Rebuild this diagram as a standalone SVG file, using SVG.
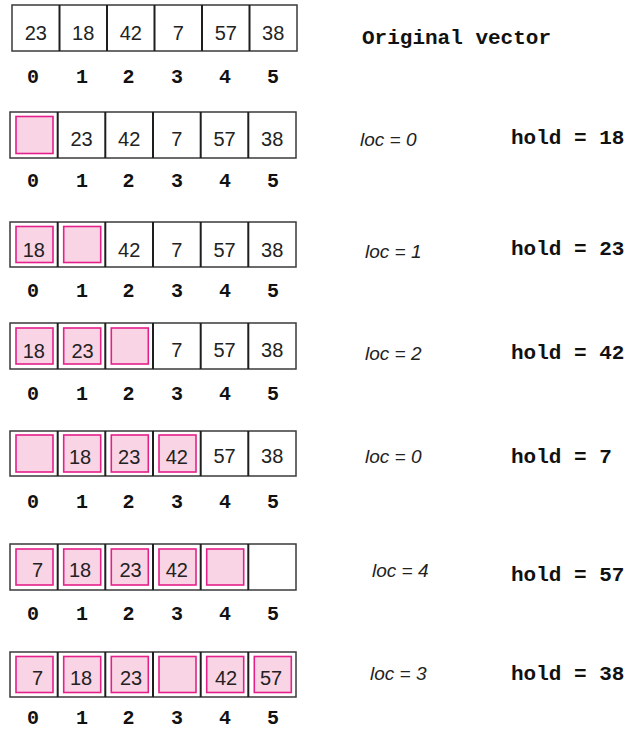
<svg xmlns="http://www.w3.org/2000/svg" width="628" height="731" viewBox="0 0 628 731">
<style>
.bg{fill:#fff}
.box{fill:#fff;stroke:#3a3a3a;stroke-width:1.5}
.div{stroke:#1e1e1e;stroke-width:2}
.pk{fill:#f9d4e4;stroke:#e5208a;stroke-width:1.6}
.num{font-family:"Liberation Sans",Arial,sans-serif;font-size:20px;fill:#222;text-anchor:middle}
.idx{font-family:"Liberation Mono","Courier New",monospace;font-weight:bold;font-size:20px;fill:#111;text-anchor:middle}
.loc{font-family:"Liberation Sans",Arial,sans-serif;font-style:italic;font-size:19px;fill:#222}
.hold{font-family:"Liberation Mono","Courier New",monospace;font-weight:bold;font-size:21px;fill:#111}
</style>
<rect class="bg" x="0" y="0" width="628" height="731"/>

<g id="row1">
<rect class="box" x="12" y="5" width="285" height="46"/>
<path class="div" d="M59.5 5V51M107 5V51M154.5 5V51M202 5V51M249.5 5V51"/>
<text class="num" x="35.8" y="40">23</text><text class="num" x="83.2" y="40">18</text><text class="num" x="130.8" y="40">42</text><text class="num" x="178.2" y="40">7</text><text class="num" x="225.8" y="40">57</text><text class="num" x="273.2" y="40">38</text>
<text class="idx" x="33" y="83">0</text><text class="idx" x="82" y="83">1</text><text class="idx" x="128.5" y="83">2</text><text class="idx" x="177" y="83">3</text><text class="idx" x="225" y="83">4</text><text class="idx" x="273" y="83">5</text>
<text class="hold" x="362" y="44">Original vector</text>
</g>

<g id="row2">
<rect class="box" x="10" y="112" width="286" height="46"/>
<path class="div" d="M57.7 112V158M105.3 112V158M153 112V158M200.7 112V158M248.3 112V158"/>
<rect class="pk" x="16" y="116.5" width="37" height="37"/>
<text class="num" x="81.5" y="146">23</text><text class="num" x="129.2" y="146">42</text><text class="num" x="176.8" y="146">7</text><text class="num" x="224.5" y="146">57</text><text class="num" x="272.2" y="146">38</text>
<text class="idx" x="33" y="187">0</text><text class="idx" x="82" y="187">1</text><text class="idx" x="128.5" y="187">2</text><text class="idx" x="177" y="187">3</text><text class="idx" x="225" y="187">4</text><text class="idx" x="273" y="187">5</text>
<text class="loc" x="360" y="146">loc = 0</text>
<text class="hold" x="511" y="144">hold = 18</text>
</g>

<g id="row3">
<rect class="box" x="10" y="222" width="286" height="45"/>
<path class="div" d="M57.7 222V267M105.3 222V267M153 222V267M200.7 222V267M248.3 222V267"/>
<rect class="pk" x="16" y="226.5" width="37" height="36"/>
<rect class="pk" x="63.7" y="226.5" width="37" height="36"/>
<text class="num" x="33.8" y="257">18</text>
<text class="num" x="129.2" y="257">42</text><text class="num" x="176.8" y="257">7</text><text class="num" x="224.5" y="257">57</text><text class="num" x="272.2" y="257">38</text>
<text class="idx" x="33" y="297">0</text><text class="idx" x="82" y="297">1</text><text class="idx" x="128.5" y="297">2</text><text class="idx" x="177" y="297">3</text><text class="idx" x="225" y="297">4</text><text class="idx" x="273" y="297">5</text>
<text class="loc" x="365" y="258">loc = 1</text>
<text class="hold" x="511" y="255">hold = 23</text>
</g>

<g id="row4">
<rect class="box" x="10" y="323" width="286" height="46"/>
<path class="div" d="M57.7 323V369M105.3 323V369M153 323V369M200.7 323V369M248.3 323V369"/>
<rect class="pk" x="16" y="328" width="37" height="36"/>
<rect class="pk" x="63.7" y="328" width="37" height="36"/>
<rect class="pk" x="111.3" y="328" width="37" height="36"/>
<text class="num" x="33.8" y="358">18</text><text class="num" x="82.5" y="358">23</text>
<text class="num" x="176.8" y="357">7</text><text class="num" x="224.5" y="357">57</text><text class="num" x="272.2" y="357">38</text>
<text class="idx" x="33" y="400">0</text><text class="idx" x="82" y="400">1</text><text class="idx" x="128.5" y="400">2</text><text class="idx" x="177" y="400">3</text><text class="idx" x="225" y="400">4</text><text class="idx" x="273" y="400">5</text>
<text class="loc" x="365" y="360">loc = 2</text>
<text class="hold" x="511" y="359">hold = 42</text>
</g>

<g id="row5">
<rect class="box" x="10" y="431" width="286" height="45"/>
<path class="div" d="M57.7 431V476M105.3 431V476M153 431V476M200.7 431V476M248.3 431V476"/>
<rect class="pk" x="16" y="435" width="37" height="37"/>
<rect class="pk" x="63.7" y="435" width="37" height="37"/>
<rect class="pk" x="111.3" y="435" width="37" height="37"/>
<rect class="pk" x="159" y="435" width="37" height="37"/>
<text class="num" x="80" y="464">18</text><text class="num" x="129.2" y="464">23</text><text class="num" x="176.8" y="464">42</text>
<text class="num" x="224.5" y="463">57</text><text class="num" x="272.2" y="463">38</text>
<text class="idx" x="33" y="508">0</text><text class="idx" x="82" y="508">1</text><text class="idx" x="128.5" y="508">2</text><text class="idx" x="177" y="508">3</text><text class="idx" x="225" y="508">4</text><text class="idx" x="273" y="508">5</text>
<text class="loc" x="365" y="463">loc = 0</text>
<text class="hold" x="511" y="463">hold = 7</text>
</g>

<g id="row6">
<rect class="box" x="10" y="544" width="286" height="46"/>
<path class="div" d="M57.7 544V590M105.3 544V590M153 544V590M200.7 544V590M248.3 544V590"/>
<rect class="pk" x="16" y="549" width="37" height="36"/>
<rect class="pk" x="63.7" y="549" width="37" height="36"/>
<rect class="pk" x="111.3" y="549" width="37" height="36"/>
<rect class="pk" x="159" y="549" width="37" height="36"/>
<rect class="pk" x="206.7" y="549" width="37" height="36"/>
<text class="num" x="37.5" y="577">7</text><text class="num" x="80" y="577">18</text><text class="num" x="130.5" y="577">23</text><text class="num" x="176.8" y="577">42</text>
<text class="idx" x="33" y="620">0</text><text class="idx" x="82" y="620">1</text><text class="idx" x="128.5" y="620">2</text><text class="idx" x="177" y="620">3</text><text class="idx" x="225" y="620">4</text><text class="idx" x="273" y="620">5</text>
<text class="loc" x="372" y="577">loc = 4</text>
<text class="hold" x="511" y="581">hold = 57</text>
</g>

<g id="row7">
<rect class="box" x="10" y="652" width="286" height="45"/>
<path class="div" d="M57.7 652V697M105.3 652V697M153 652V697M200.7 652V697M248.3 652V697"/>
<rect class="pk" x="16" y="656.5" width="37" height="36"/>
<rect class="pk" x="63.7" y="656.5" width="37" height="36"/>
<rect class="pk" x="111.3" y="656.5" width="37" height="36"/>
<rect class="pk" x="159" y="656.5" width="37" height="36"/>
<rect class="pk" x="206.7" y="656.5" width="37" height="36"/>
<rect class="pk" x="254.3" y="656.5" width="37" height="36"/>
<text class="num" x="37.5" y="685">7</text><text class="num" x="81" y="685">18</text><text class="num" x="131" y="685">23</text><text class="num" x="226" y="685">42</text><text class="num" x="271" y="685">57</text>
<text class="idx" x="33" y="724">0</text><text class="idx" x="82" y="724">1</text><text class="idx" x="128.5" y="724">2</text><text class="idx" x="177" y="724">3</text><text class="idx" x="225" y="724">4</text><text class="idx" x="273" y="724">5</text>
<text class="loc" x="370" y="680">loc = 3</text>
<text class="hold" x="511" y="680">hold = 38</text>
</g>
</svg>
